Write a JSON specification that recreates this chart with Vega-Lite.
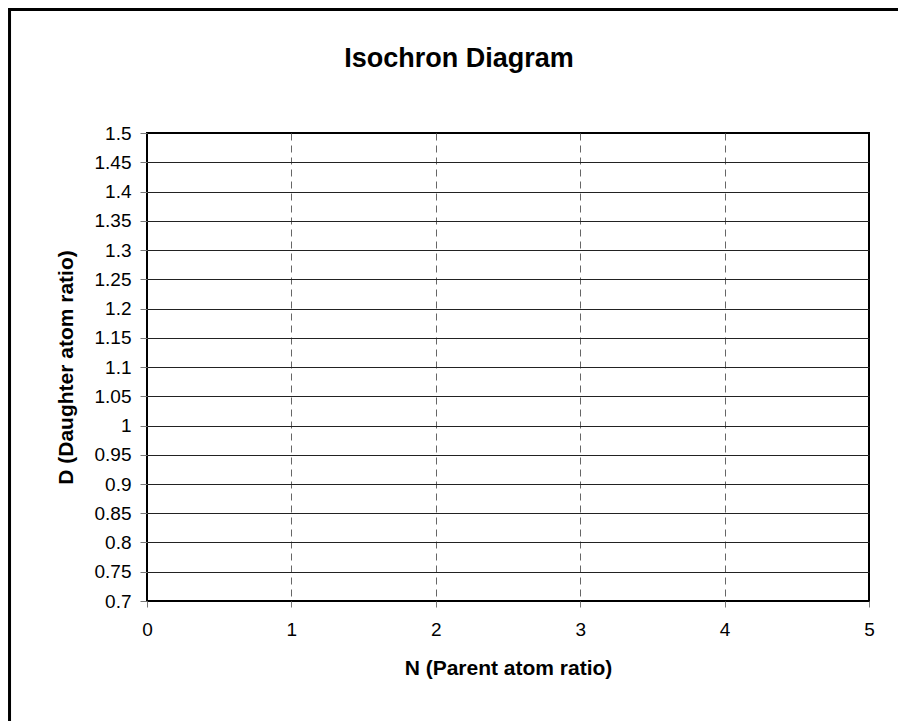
{
  "$schema": "https://vega.github.io/schema/vega-lite/v6.json",
  "width": 722,
  "height": 468,
  "autosize": {"type": "none"},
  "padding": {"left": 147, "top": 133, "right": 29, "bottom": 120},
  "background": "white",
  "title": {
    "text": "Isochron Diagram",
    "font": "Liberation Sans",
    "fontSize": 27,
    "fontWeight": "bold",
    "color": "black",
    "anchor": "middle",
    "baseline": "alphabetic",
    "dx": -49,
    "offset": -86
  },
  "config": {
    "view": {"stroke": "black", "strokeWidth": 2},
    "axis": {
      "labelFont": "Liberation Sans",
      "titleFont": "Liberation Sans",
      "labelColor": "black",
      "titleColor": "black"
    }
  },
  "layer": [
    {
      "data": {"values": []},
      "mark": {"type": "point"},
      "encoding": {
        "x": {
          "field": "N",
          "type": "quantitative",
          "scale": {"domain": [0, 5], "nice": false, "zero": false},
          "axis": {
            "title": "N (Parent atom ratio)",
            "titleFontSize": 21,
            "titleFontWeight": "bold",
            "titlePadding": 18,
            "values": [0, 1, 2, 3, 4, 5],
            "tickCount": 10,
            "format": "d",
            "labelFontSize": 19,
            "labelPadding": 13,
            "labelFlush": false,
            "labelOverlap": false,
            "tickSize": 6,
            "tickColor": "#777777",
            "domain": false,
            "grid": true,
            "gridColor": "#666666",
            "gridDash": [7, 5],
            "gridWidth": 1,
            "gridOpacity": {"condition": {"test": "datum.value == 0 || datum.value == 5", "value": 0}, "value": 1}
          }
        },
        "y": {
          "field": "D",
          "type": "quantitative",
          "scale": {"domain": [0.7, 1.5], "nice": false, "zero": false},
          "axis": {
            "title": "D (Daughter atom ratio)",
            "titleFontSize": 21,
            "titleFontWeight": "bold",
            "titlePadding": 18,
            "values": [0.7, 0.75, 0.8, 0.85, 0.9, 0.95, 1, 1.05, 1.1, 1.15, 1.2, 1.25, 1.3, 1.35, 1.4, 1.45, 1.5],
            "tickCount": 30,
            "format": ".2~f",
            "labelFontSize": 19,
            "labelPadding": 9,
            "labelFlush": false,
            "labelOverlap": false,
            "tickSize": 7,
            "tickColor": "#777777",
            "domain": false,
            "grid": true,
            "gridColor": "#222222",
            "gridWidth": 1,
            "gridOpacity": {"condition": {"test": "abs(datum.value - 0.7) < 0.001 || abs(datum.value - 1.5) < 0.001", "value": 0}, "value": 1}
          }
        }
      }
    },
    {
      "data": {"values": [{}]},
      "mark": {"type": "rect", "fill": null, "stroke": "black", "strokeWidth": 3, "clip": false},
      "encoding": {
        "x": {"datum": -0.952},
        "x2": {"datum": 7.0},
        "y": {"datum": 1.711},
        "y2": {"datum": 0.36}
      }
    }
  ]
}
